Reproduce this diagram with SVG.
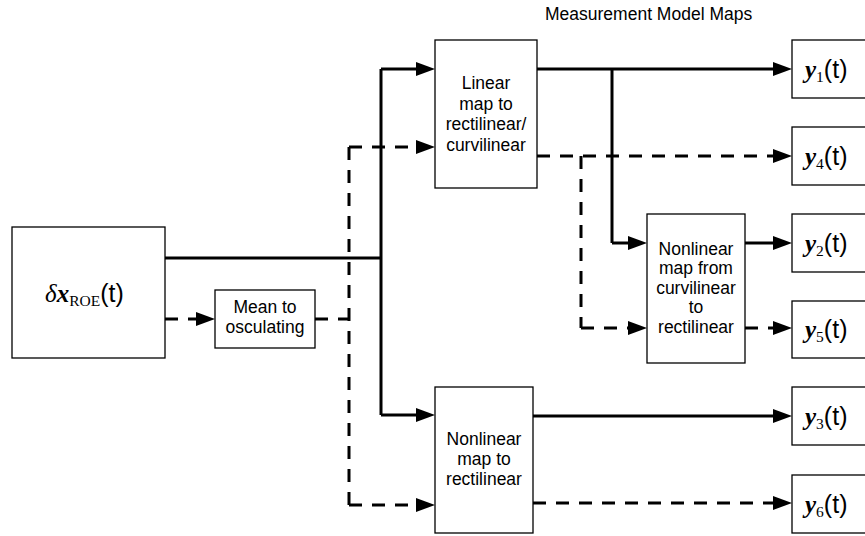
<svg xmlns="http://www.w3.org/2000/svg" width="865" height="536" viewBox="0 0 865 536">
<style>
.box{fill:#fff;stroke:#000;stroke-width:1.3}
.lbl{font-family:"Liberation Sans",Arial,sans-serif;font-size:17.5px;fill:#000;text-anchor:middle}
.hdr{font-family:"Liberation Sans",Arial,sans-serif;font-size:17.5px;fill:#000}
.sol{fill:none;stroke:#000;stroke-width:3}
.dsh{fill:none;stroke:#000;stroke-width:3;stroke-dasharray:13 10}
.ar{marker-end:url(#ah)}
.mi{font-family:"Liberation Serif","DejaVu Serif",serif;font-style:italic;font-weight:bold;font-size:25px}
.gr{font-family:"Liberation Serif","DejaVu Serif",serif;font-style:italic;font-size:25px}
.sub{font-family:"Liberation Serif","DejaVu Serif",serif;font-size:15.5px}
.par{font-family:"Liberation Sans",Arial,sans-serif;font-size:25px}
</style>
<defs>
<marker id="ah" markerWidth="19" markerHeight="14" refX="4" refY="7" orient="auto" markerUnits="userSpaceOnUse">
<path d="M0,0 L19,7 L0,14 z" fill="#000"/>
</marker>
</defs>

<text class="hdr" x="545" y="20">Measurement Model Maps</text>

<g id="connectors">
<path class="sol" d="M165,258 H381"/>
<path class="sol" d="M381,69 V415"/>
<path class="sol ar" d="M381,69 H420"/>
<path class="sol ar" d="M381,415 H420"/>
<path class="dsh ar" d="M165,319 H200"/>
<path class="dsh" d="M315,319 H349"/>
<path class="dsh" d="M349,147 V505"/>
<path class="dsh ar" d="M349,147 H420"/>
<path class="dsh ar" d="M349,505 H420"/>
<path class="sol ar" d="M537,69 H777"/>
<path class="sol" d="M612,69 V243"/>
<path class="sol ar" d="M612,243 H632"/>
<path class="dsh ar" d="M537,156 H777"/>
<path class="dsh" d="M581,156 V328"/>
<path class="dsh ar" d="M581,328 H632"/>
<path class="sol ar" d="M745,243 H777"/>
<path class="dsh ar" d="M745,328 H777"/>
<path class="sol ar" d="M533,416 H777"/>
<path class="dsh ar" d="M533,503 H777"/>
</g>

<g id="state">
<rect class="box" x="12" y="227" width="153" height="131"/>
<text x="45" y="302"><tspan class="gr">δ</tspan><tspan class="mi">x</tspan><tspan class="sub" dy="4">ROE</tspan><tspan class="par" dy="-4">(t)</tspan></text>
</g>

<g id="mean2osc">
<rect class="box" x="215" y="290" width="100" height="58"/>
<text class="lbl"><tspan x="265" y="313">Mean to</tspan><tspan x="265" y="333">osculating</tspan></text>
</g>

<g id="linearmap">
<rect class="box" x="435" y="40" width="102" height="148"/>
<text class="lbl"><tspan x="486" y="89">Linear</tspan><tspan x="486" y="110">map to</tspan><tspan x="486" y="130">rectilinear/</tspan><tspan x="486" y="151">curvilinear</tspan></text>
</g>

<g id="nonlinearcurv">
<rect class="box" x="647" y="214" width="98" height="149"/>
<text class="lbl"><tspan x="696" y="255">Nonlinear</tspan><tspan x="696" y="274">map from</tspan><tspan x="696" y="294">curvilinear</tspan><tspan x="696" y="313">to</tspan><tspan x="696" y="333">rectilinear</tspan></text>
</g>

<g id="nonlinearrect">
<rect class="box" x="435" y="387" width="98" height="146"/>
<text class="lbl"><tspan x="484" y="445">Nonlinear</tspan><tspan x="484" y="465">map to</tspan><tspan x="484" y="485">rectilinear</tspan></text>
</g>

<g id="y1">
<rect class="box" x="792" y="40" width="100" height="58"/>
<text x="805" y="78"><tspan class="mi">y</tspan><tspan class="sub" dy="4">1</tspan><tspan class="par" dy="-4">(t)</tspan></text>
</g>
<g id="y4">
<rect class="box" x="792" y="127" width="100" height="58"/>
<text x="805" y="165"><tspan class="mi">y</tspan><tspan class="sub" dy="4">4</tspan><tspan class="par" dy="-4">(t)</tspan></text>
</g>
<g id="y2">
<rect class="box" x="792" y="214" width="100" height="58"/>
<text x="805" y="252"><tspan class="mi">y</tspan><tspan class="sub" dy="4">2</tspan><tspan class="par" dy="-4">(t)</tspan></text>
</g>
<g id="y5">
<rect class="box" x="792" y="301" width="100" height="57"/>
<text x="805" y="338"><tspan class="mi">y</tspan><tspan class="sub" dy="4">5</tspan><tspan class="par" dy="-4">(t)</tspan></text>
</g>
<g id="y3">
<rect class="box" x="792" y="387" width="100" height="58"/>
<text x="805" y="425"><tspan class="mi">y</tspan><tspan class="sub" dy="4">3</tspan><tspan class="par" dy="-4">(t)</tspan></text>
</g>
<g id="y6">
<rect class="box" x="792" y="475" width="100" height="58"/>
<text x="805" y="513"><tspan class="mi">y</tspan><tspan class="sub" dy="4">6</tspan><tspan class="par" dy="-4">(t)</tspan></text>
</g>
</svg>
